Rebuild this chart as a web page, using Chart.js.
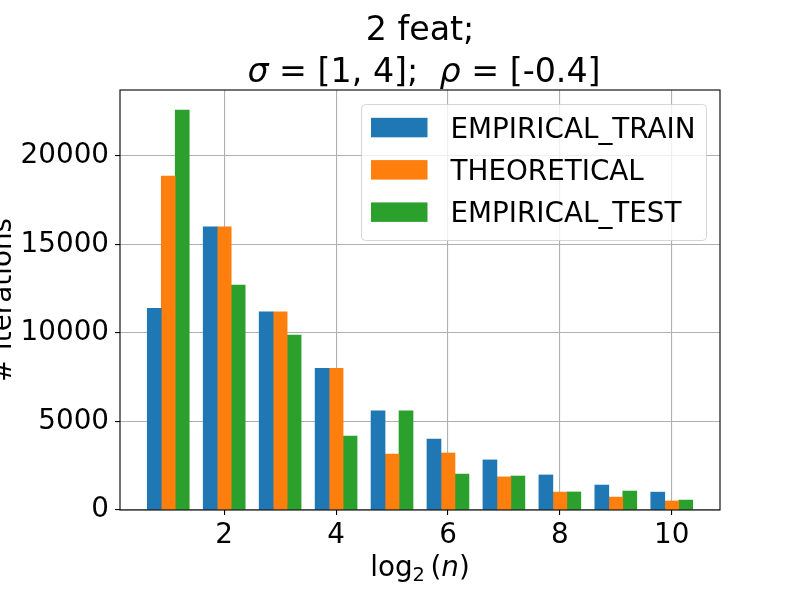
<!DOCTYPE html>
<html>
<head>
<meta charset="utf-8">
<script src="https://cdn.jsdelivr.net/npm/chart.js@4.4.1/dist/chart.umd.min.js"></script>
<style>
  html, body { margin: 0; padding: 0; background: #fff; }
</style>
</head>
<body>
<canvas id="chart" width="800" height="600"></canvas>
<script>
// values
const logN = [1, 2, 3, 4, 5, 6, 7, 8, 9, 10];
const empiricalTrain = [11400, 16000, 11200, 8000, 5600, 4000, 2830, 1980, 1410, 1010];
const theoretical = [18870, 16000, 11200, 8000, 3160, 3220, 1870, 1010, 730, 510];
const empiricalTest = [22600, 12710, 9890, 4180, 5600, 2030, 1920, 1020, 1070, 560];
const seriesNames = ['EMPIRICAL_TRAIN', 'THEORETICAL', 'EMPIRICAL_TEST'];
const xTicks = [2, 4, 6, 8, 10];
const yTicks = [0, 5000, 10000, 15000, 20000];

const FONT = '"DejaVu Sans"';
const fontSize = 27.8;
const titleSize = 33.3;

// matplotlib style: three bars side by side, each a quarter unit wide
function toPoints(values, shift) {
    return values.map((v, i) => ({ x: logN[i] + shift, y: v }));
}

function drawRuns(ctx, runs, cx, y) {
    const widths = runs.map(r => { ctx.font = r.font; return ctx.measureText(r.text).width; });
    let x = cx - widths.reduce((s, w) => s + w, 0) / 2;
    runs.forEach((r, i) => {
        ctx.font = r.font;
        ctx.fillText(r.text, x, y + (r.dy || 0));
        x += widths[i];
    });
}

const decorPlugin = {
    id: 'decor',
    afterDraw(chart) {
        const { ctx, chartArea: a } = chart;
        const cx = (a.left + a.right) / 2;
        ctx.save();

        // axes frame
        ctx.strokeStyle = '#000';
        ctx.lineWidth = 1.1;
        ctx.strokeRect(a.left, a.top, a.right - a.left, a.bottom - a.top);

        ctx.fillStyle = '#000';
        ctx.textBaseline = 'alphabetic';
        ctx.textAlign = 'left';

        // title, two lines
        const reg = `${titleSize}px ${FONT}`;
        const ital = `italic ${titleSize}px ${FONT}`;
        drawRuns(ctx, [{ text: '2 feat;', font: reg }], cx, 40);
        drawRuns(ctx, [
            { text: 'σ', font: ital },
            { text: ' = [1, 4];  ', font: reg },
            { text: 'ρ', font: ital },
            { text: ' = [-0.4]', font: reg }
        ], cx + 4, 82);

        // x axis label
        const lab = `${fontSize}px ${FONT}`;
        drawRuns(ctx, [
            { text: 'log', font: lab },
            { text: '2', font: `${fontSize * 0.7}px ${FONT}`, dy: 5.3 },
            { text: '\u2009(', font: lab },
            { text: 'n', font: `italic ${fontSize}px ${FONT}` },
            { text: ')', font: lab }
        ], cx, 576);

        // y axis label (partly off the left edge, as in the reference)
        ctx.save();
        ctx.translate(11, (a.top + a.bottom) / 2);
        ctx.rotate(-Math.PI / 2);
        ctx.textAlign = 'center';
        ctx.font = lab;
        ctx.fillText('# iterations', 0, 0);
        ctx.restore();

        // legend box, upper right
        const bx = a.right - 14, by = a.top + 14;
        const bw = 345, bh = 136;
        ctx.globalAlpha = 0.8;
        ctx.fillStyle = '#fff';
        ctx.strokeStyle = '#cccccc';
        ctx.lineWidth = 1;
        ctx.beginPath();
        ctx.roundRect(bx - bw + 0.5, by + 0.5, bw, bh, 4);
        ctx.fill();
        ctx.stroke();
        ctx.globalAlpha = 1;

        ctx.font = lab;
        ctx.textAlign = 'left';
        chart.data.datasets.forEach((ds, i) => {
            const rowY = by + 23.5 + i * 42.3;
            ctx.fillStyle = ds.backgroundColor;
            ctx.fillRect(bx - bw + 10, rowY - 9.7, 56.5, 19.5);
            ctx.fillStyle = '#000';
            ctx.fillText(ds.label, bx - bw + 89.5, rowY + 10);
        });

        ctx.restore();
    }
};

const ctx = document.getElementById('chart').getContext('2d');
new Chart(ctx, {
    type: 'bar',
    data: {
        datasets: [
            { label: seriesNames[0], data: toPoints(empiricalTrain, -0.25), backgroundColor: '#1f77b4' },
            { label: seriesNames[1], data: toPoints(theoretical, 0), backgroundColor: '#ff7f0e' },
            { label: seriesNames[2], data: toPoints(empiricalTest, 0.25), backgroundColor: '#2ca02c' }
        ]
    },
    options: {
        responsive: false,
        animation: false,
        devicePixelRatio: 1,
        grouped: false,
        barPercentage: 1,
        categoryPercentage: 1,
        borderWidth: 0,
        layout: { padding: { top: 90, right: 80, left: 0, bottom: 0 } },
        plugins: {
            legend: { display: false },
            tooltip: { enabled: false }
        },
        scales: {
            x: {
                type: 'linear',
                min: 0.1375,
                max: 10.8625,
                offset: false,
                z: 1,
                grid: { offset: false, color: '#b0b0b0', lineWidth: 1.1, tickColor: '#000', tickLength: 5 },
                border: { display: false },
                ticks: { font: { family: 'DejaVu Sans', size: fontSize }, color: '#000', padding: 4, maxRotation: 0, autoSkip: false },
                afterBuildTicks: s => { s.ticks = xTicks.map(v => ({ value: v })); },
                afterFit: s => { s.height = 90; }
            },
            y: {
                min: 0,
                max: 23730,
                z: 1,
                grid: { color: '#b0b0b0', lineWidth: 1.1, tickColor: '#000', tickLength: 5 },
                border: { display: false },
                ticks: {
                    font: { family: 'DejaVu Sans', size: fontSize },
                    color: '#000',
                    padding: 6,
                    callback: v => String(v)
                },
                afterBuildTicks: s => { s.ticks = yTicks.map(v => ({ value: v })); },
                afterFit: s => { s.width = 120; }
            }
        }
    },
    plugins: [decorPlugin]
});
</script>
</body>
</html>
